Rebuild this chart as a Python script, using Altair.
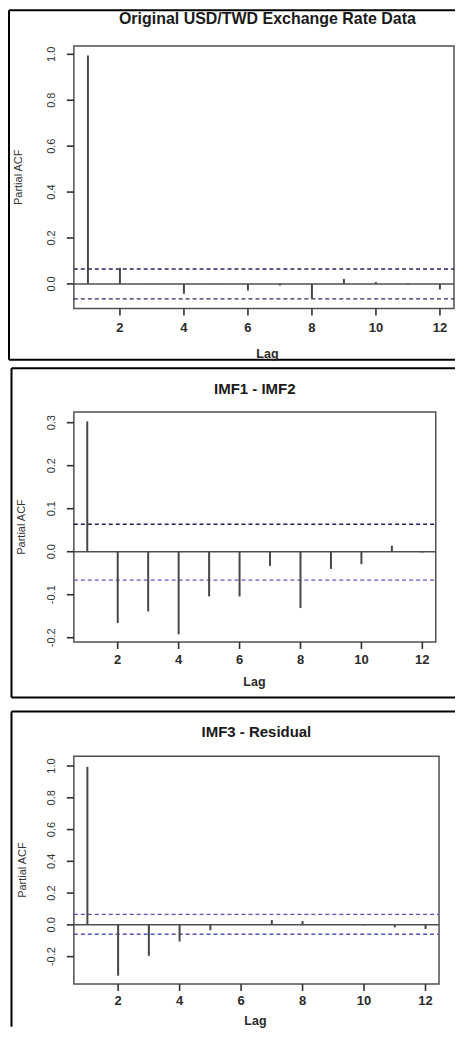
import altair as alt
import pandas as pd

# ---------------- data ----------------
lags = list(range(1, 13))
pacf_original = [0.995, 0.070, 0.002, -0.043, 0.001, -0.029, -0.007, -0.065, 0.022, 0.008, -0.004, -0.024]
pacf_imf12 = [0.303, -0.166, -0.139, -0.192, -0.104, -0.104, -0.033, -0.131, -0.040, -0.029, 0.014, -0.002]
pacf_imf3res = [0.995, -0.320, -0.195, -0.105, -0.034, 0.002, 0.030, 0.024, 0.001, -0.003, -0.016, -0.026]

titles = ["Original USD/TWD Exchange Rate Data", "IMF1 - IMF2", "IMF3 - Residual"]
ci_bounds = [[0.065, -0.065], [0.064, -0.066], [0.066, -0.059]]
ci_colors = [["#26265e", "#2c2c66"], ["#1e1e5c", "#5a5ad0"], ["#5252c4", "#5252c4"]]
y_domains = [[-0.107, 1.036], [-0.21, 0.325], [-0.372, 1.062]]
y_ticks = [[0.0, 0.2, 0.4, 0.6, 0.8, 1.0],
           [-0.2, -0.1, 0.0, 0.1, 0.2, 0.3],
           [-0.2, 0.0, 0.2, 0.4, 0.6, 0.8, 1.0]]
y_tick_labels = [["0.0", "0.2", "0.4", "0.6", "0.8", "1.0"],
                 ["-0.2", "-0.1", "0.0", "0.1", "0.2", "0.3"],
                 ["-0.2", "0.0", "0.2", "0.4", "0.6", "0.8", "1.0"]]
x_ticks = [2, 4, 6, 8, 10, 12]
x_tick_labels = ["2", "4", "6", "8", "10", "12"]
x_domain = [0.56, 12.44]
x_label = "Lag"
y_label = "Partial ACF"

FONT = "Liberation Sans"
CANVAS_W, CANVAS_H = 448, 1020

# ---------------- layout: pixel geometry of each panel in the canvas ----------------
layouts = [
    dict(px=(66, 447), py=(300, 37),
         frame=[(1, 1, 1, 351.5), (1, 448, 1, 1), (1, 448, 351.5, 351.5)],
         title=(260, 9.5, 16), xlab_y=320, lag=(260, 346), ytitle_x=11),
    dict(px=(66, 428.7), py=(634.3, 403.7),
         frame=[(3.5, 3.5, 360, 690), (3.5, 448, 360, 360), (3.5, 448, 690, 690)],
         title=(247.3, 380.5, 15), xlab_y=652, lag=(247, 674), ytitle_x=14),
    dict(px=(66, 432), py=(977, 748.7),
         frame=[(3.5, 3.5, 704, 1020), (3.5, 448, 704, 704)],
         title=(249, 724.5, 15), xlab_y=994.5, lag=(248, 1014), ytitle_x=15),
]


def panel_layers(vals, title, ci, cic, ydom, yt, ytl, cfg):
    xl, xr = cfg["px"]
    yb, ytop = cfg["py"]
    xs = alt.Scale(domain=x_domain, range=[xl, xr], nice=False, zero=False)
    ys = alt.Scale(domain=ydom, range=[yb, ytop], nice=False, zero=False)
    one = pd.DataFrame({"k": [0]})
    ymid = (ydom[0] + ydom[1]) / 2

    df = pd.DataFrame({"lag": lags, "pacf": vals})
    xt = pd.DataFrame({"t": x_ticks, "lab": x_tick_labels})
    ytd = pd.DataFrame({"t": yt, "lab": ytl})

    layers = []
    # outer frame of the figure panel
    for (a, b, c, d) in cfg["frame"]:
        layers.append(alt.Chart(one).mark_rule(color="black", strokeWidth=2).encode(
            x=alt.value(a), x2=alt.value(b), y=alt.value(c), y2=alt.value(d)))
    # plot box
    layers.append(alt.Chart(one).mark_rect(fillOpacity=0, stroke="#505050", strokeWidth=1.5).encode(
        x=alt.XDatum(x_domain[0], scale=xs, axis=None), x2=alt.X2Datum(x_domain[1]),
        y=alt.YDatum(ydom[0], scale=ys, axis=None), y2=alt.Y2Datum(ydom[1])))
    # zero line and confidence bounds
    layers.append(alt.Chart(one).mark_rule(color="#505050", strokeWidth=1.5).encode(
        x=alt.XDatum(x_domain[0], scale=xs, axis=None), x2=alt.X2Datum(x_domain[1]),
        y=alt.YDatum(0, scale=ys, axis=None)))
    for v, c in zip(ci, cic):
        layers.append(alt.Chart(one).mark_rule(color=c, strokeWidth=1.4, strokeDash=[4, 3]).encode(
            x=alt.XDatum(x_domain[0], scale=xs, axis=None), x2=alt.X2Datum(x_domain[1]),
            y=alt.YDatum(v, scale=ys, axis=None)))
    # PACF spikes
    layers.append(alt.Chart(df).mark_rule(color="#474747", strokeWidth=2).encode(
        x=alt.X("lag:Q", scale=xs, axis=None),
        y=alt.Y("pacf:Q", scale=ys, axis=None),
        y2=alt.Y2Datum(0)))
    # x ticks + labels
    layers.append(alt.Chart(xt).mark_rule(color="#303030", strokeWidth=1.6).encode(
        x=alt.X("t:Q", scale=xs, axis=None), y=alt.value(yb), y2=alt.value(yb + 7)))
    layers.append(alt.Chart(xt).mark_text(font=FONT, fontSize=13, fontWeight="bold",
                                          color="#2a2a2a", align="center", baseline="middle").encode(
        x=alt.X("t:Q", scale=xs, axis=None), y=alt.value(cfg["xlab_y"]), text="lab:N"))
    # y ticks + labels (rotated, R style)
    layers.append(alt.Chart(ytd).mark_rule(color="#303030", strokeWidth=1.6).encode(
        y=alt.Y("t:Q", scale=ys, axis=None), x=alt.value(xl - 7), x2=alt.value(xl)))
    layers.append(alt.Chart(ytd).mark_text(font=FONT, fontSize=11, color="#333333", angle=270,
                                           align="center", baseline="bottom").encode(
        y=alt.Y("t:Q", scale=ys, axis=None), x=alt.value(xl - 17), text="lab:N"))
    # titles
    tx, ty, tfs = cfg["title"]
    layers.append(alt.Chart(one).mark_text(text=title, font=FONT, fontSize=tfs,
                                           fontWeight="bold", color="#1a1a1a",
                                           align="center", baseline="middle").encode(
        x=alt.value(tx), y=alt.value(ty)))
    lx, ly = cfg["lag"]
    layers.append(alt.Chart(one).mark_text(text=x_label, font=FONT, fontSize=12.5,
                                           fontWeight="bold", color="#2a2a2a",
                                           align="center", baseline="middle").encode(
        x=alt.value(lx), y=alt.value(ly)))
    layers.append(alt.Chart(one).mark_text(text=y_label, font=FONT, fontSize=11,
                                           color="#333333", angle=270,
                                           align="center", baseline="middle").encode(
        x=alt.value(cfg["ytitle_x"]), y=alt.YDatum(ymid, scale=ys, axis=None)))
    return layers


series = [pacf_original, pacf_imf12, pacf_imf3res]
all_layers = []
for i in range(3):
    all_layers += panel_layers(series[i], titles[i], ci_bounds[i], ci_colors[i],
                               y_domains[i], y_ticks[i], y_tick_labels[i], layouts[i])

chart = alt.layer(*all_layers).resolve_scale(
    x="independent", y="independent"
).properties(
    width=CANVAS_W, height=CANVAS_H, padding=0, background="white"
).configure_view(strokeWidth=0)

chart.save("out.html", embed_options={"renderer": "svg", "actions": False})
